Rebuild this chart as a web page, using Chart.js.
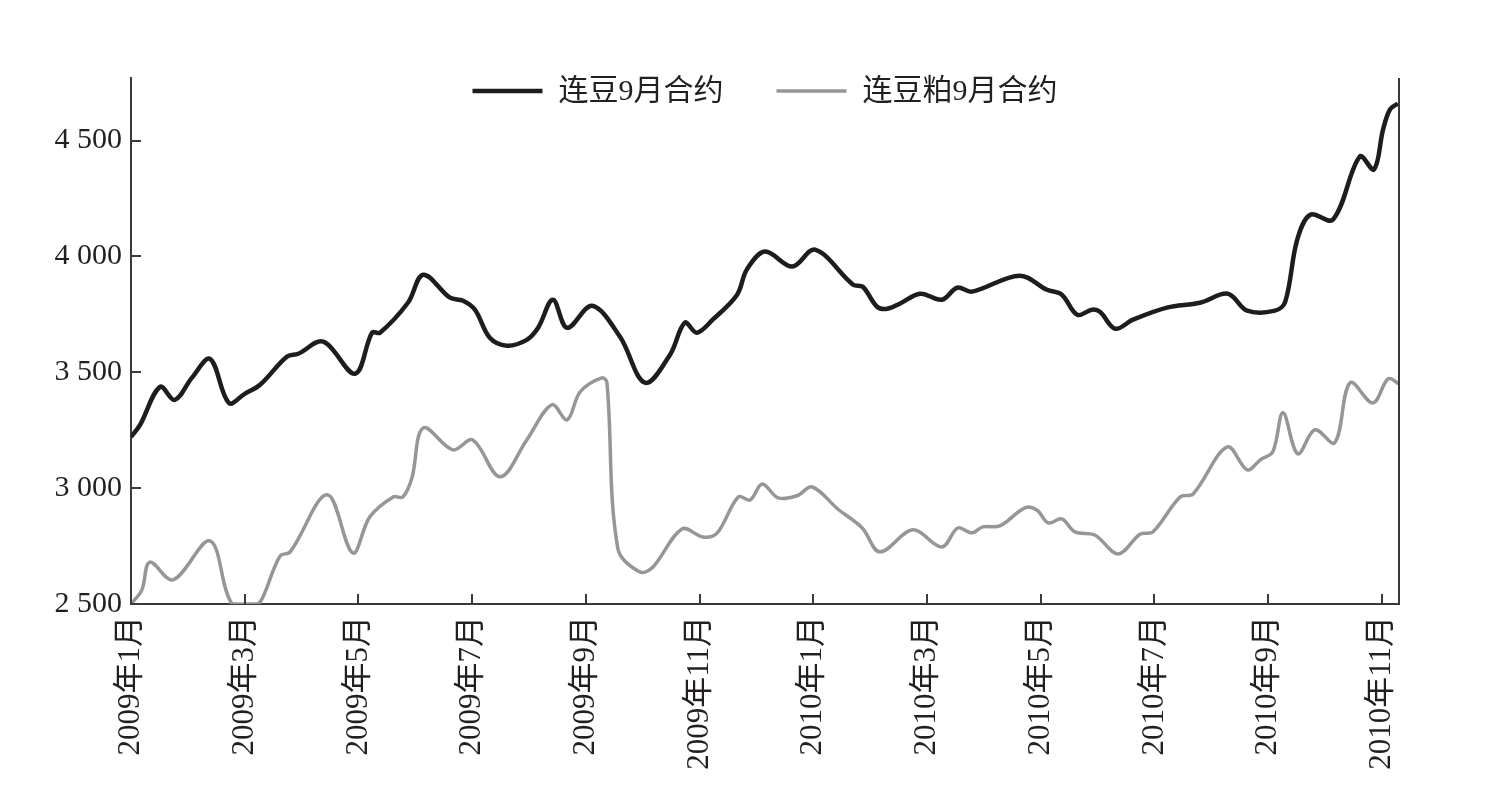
<!DOCTYPE html>
<html>
<head>
<meta charset="utf-8">
<script src="https://cdn.jsdelivr.net/npm/chart.js@4.4.1/dist/chart.umd.min.js"></script>
<style>
  html, body { margin: 0; padding: 0; background: #ffffff; }
  #wrap { width: 1485px; height: 796px; position: relative; }
</style>
</head>
<body>
<div id="wrap"><canvas id="c" width="1485" height="796"></canvas></div>
<script>
// ---- data (x in months since 2009年1月) ----
const seriesNames = ['连豆9月合约', '连豆粕9月合约'];
const xTickValues = [0, 2, 4, 6, 8, 10, 12, 14, 16, 18, 20, 22];
const xTickLabels = ['2009年1月','2009年3月','2009年5月','2009年7月','2009年9月','2009年11月',
                     '2010年1月','2010年3月','2010年5月','2010年7月','2010年9月','2010年11月'];
const yTickValues = [2500, 3000, 3500, 4000, 4500];
const yTickLabels = ['2 500', '3 000', '3 500', '4 000', '4 500'];

const soyX = [0,0.16,0.51,0.77,1.07,1.39,1.72,2.00,2.27,2.74,2.94,3.38,3.94,4.24,4.38,4.87,5.14,5.61,5.84,6.05,
  6.31,6.61,6.96,7.16,7.42,7.67,8.11,8.60,9.04,9.48,9.74,9.95,10.23,10.66,10.83,11.15,11.63,12.03,12.70,12.87,
  13.12,13.30,13.52,13.88,14.26,14.53,14.79,15.63,16.11,16.37,16.64,16.90,17.04,17.31,17.62,18.22,18.80,19.29,19.63,20.12,
  20.30,20.51,20.74,21.14,21.61,21.86,22.02,22.14,22.28];
const soyY = [3221,3273,3437,3381,3476,3558,3368,3407,3446,3567,3580,3632,3494,3671,3671,3800,3921,3822,3809,3770,
  3649,3615,3640,3692,3813,3692,3787,3653,3455,3576,3714,3671,3727,3835,3943,4021,3956,4029,3878,3869,
  3783,3774,3796,3839,3813,3865,3848,3917,3856,3835,3748,3770,3761,3688,3727,3779,3800,3839,3766,3766,
  3805,4072,4180,4159,4431,4375,4548,4634,4660];

const mealX = [0,0.19,0.33,0.74,1.39,1.78,2.22,2.32,2.62,2.80,3.45,3.90,4.20,4.61,4.78,4.94,5.14,5.66,6.01,6.49,
  6.96,7.40,7.67,7.90,8.28,8.37,8.56,8.95,9.18,9.69,10.06,10.31,10.68,10.89,11.10,11.38,11.71,11.98,12.43,12.86,
  13.17,13.75,14.26,14.54,14.79,14.98,15.28,15.72,15.93,16.13,16.37,16.60,16.95,17.36,17.75,17.97,18.45,18.68,19.28,19.63,
  19.86,20.08,20.26,20.52,20.82,21.17,21.44,21.84,22.11,22.30];
const mealY = [2500,2560,2681,2604,2772,2500,2500,2530,2707,2725,2971,2720,2876,2962,2962,3044,3260,3165,3208,3049,
  3208,3360,3295,3416,3476,3455,2742,2638,2660,2824,2789,2807,2962,2949,3018,2958,2967,3005,2910,2828,
  2725,2820,2746,2828,2807,2833,2837,2915,2906,2850,2867,2811,2798,2716,2802,2811,2962,2975,3178,3079,
  3122,3157,3325,3148,3252,3196,3455,3368,3472,3450];

const toPoints = (xs, ys) => xs.map((x, i) => ({ x: x, y: ys[i] }));

const FONT = "'Liberation Serif', 'Noto Sans CJK SC', serif";
const TEXT = '#231f20';
const AXIS = '#3a3a3a';

// axis furniture + in-plot legend
const frame = {
  id: 'frame',
  afterDatasetsDraw(chart) {
    const { ctx, chartArea: a, scales } = chart;
    ctx.save();
    ctx.strokeStyle = AXIS;
    ctx.lineWidth = 2;
    ctx.beginPath();
    ctx.moveTo(a.right, a.top); ctx.lineTo(a.right, a.bottom);
    scales.y.ticks.forEach(t => {
      const py = Math.round(scales.y.getPixelForValue(t.value));
      ctx.moveTo(a.left, py); ctx.lineTo(a.left + 10, py);
    });
    scales.x.ticks.forEach(t => {
      const px = Math.round(scales.x.getPixelForValue(t.value));
      ctx.moveTo(px, a.bottom); ctx.lineTo(px, a.bottom - 10);
    });
    ctx.stroke();

    // legend
    const lineW = 70, gapText = 16, gapItem = 53;
    ctx.font = '30px ' + FONT;
    ctx.textBaseline = 'middle';
    ctx.textAlign = 'left';
    const items = chart.data.datasets.map(ds => ({
      label: ds.label, color: ds.borderColor, width: ds.borderWidth, tw: ctx.measureText(ds.label).width
    }));
    let total = 0;
    items.forEach((it, i) => { total += lineW + gapText + it.tw + (i ? gapItem : 0); });
    let x = (a.left + a.right) / 2 - total / 2;
    const y = 91;
    items.forEach(it => {
      ctx.strokeStyle = it.color;
      ctx.lineWidth = it.width;
      ctx.beginPath();
      ctx.moveTo(x, y); ctx.lineTo(x + lineW, y);
      ctx.stroke();
      ctx.fillStyle = TEXT;
      ctx.fillText(it.label, x + lineW + gapText, y + 1);
      x += lineW + gapText + it.tw + gapItem;
    });
    ctx.restore();
  }
};

new Chart(document.getElementById('c'), {
  type: 'line',
  data: {
    datasets: [
      { label: seriesNames[0], data: toPoints(soyX, soyY), borderColor: '#1e1c1d', backgroundColor: '#1e1c1d',
        borderWidth: 4.5, pointRadius: 0, tension: 0.35 },
      { label: seriesNames[1], data: toPoints(mealX, mealY), borderColor: '#969696', backgroundColor: '#969696',
        borderWidth: 3.5, pointRadius: 0, tension: 0.35 }
    ]
  },
  options: {
    responsive: false,
    animation: false,
    events: [],
    layout: { padding: { left: 0, right: 86, top: 78, bottom: 0 } },
    plugins: {
      tooltip: { enabled: false },
      legend: { display: false }
    },
    scales: {
      x: {
        type: 'linear',
        min: 0,
        max: 22.3,
        grid: { display: false, drawTicks: false },
        border: { display: true, color: AXIS, width: 2 },
        afterFit(scale) { scale.height = 192; },
        afterBuildTicks(scale) { scale.ticks = xTickValues.map(v => ({ value: v })); },
        ticks: {
          autoSkip: false,
          minRotation: 90,
          maxRotation: 90,
          padding: 12,
          color: TEXT,
          font: { family: FONT, size: 31 },
          callback: (v) => xTickLabels[xTickValues.indexOf(v)]
        }
      },
      y: {
        min: 2500,
        max: 4770,
        grid: { display: false, drawTicks: false },
        border: { display: true, color: AXIS, width: 2 },
        afterFit(scale) { scale.width = 131; },
        afterBuildTicks(scale) { scale.ticks = yTickValues.map(v => ({ value: v })); },
        ticks: {
          autoSkip: false,
          padding: 9,
          color: TEXT,
          font: { family: FONT, size: 30 },
          callback: (v) => yTickLabels[yTickValues.indexOf(v)]
        }
      }
    }
  },
  plugins: [frame]
});
</script>
</body>
</html>
